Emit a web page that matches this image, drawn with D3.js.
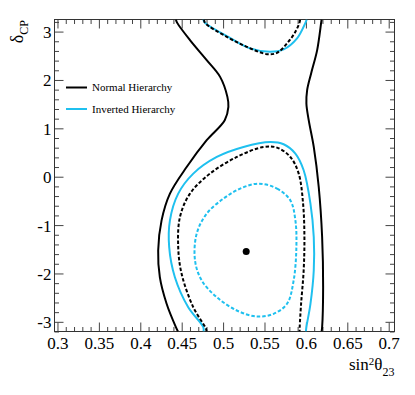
<!DOCTYPE html>
<html>
<head>
<meta charset="utf-8">
<script src="https://cdn.jsdelivr.net/npm/d3@7"></script>
<style>
  body { margin: 0; background: #fff; }
  svg { display: block; font-family: 'Liberation Serif', 'Times New Roman', serif; }
  .axis line { stroke: #444; }
</style>
</head>
<body>
<svg id="chart"></svg>
<script>
// contour points, [sin^2 theta23, deltaCP]
const nhOuterLeft = [
  [0.443, 3.25], [0.4446, 3.18], [0.460, 2.824], [0.4802, 2.41], [0.4964, 2.064],
  [0.5052, 1.65], [0.5064, 1.443], [0.502, 1.168], [0.4802, 0.754], [0.456, 0.20],
  [0.4358, -0.35], [0.4257, -0.903], [0.4216, -1.524], [0.4236, -2.077],
  [0.4318, -2.627], [0.443, -3.11], [0.4455, -3.2]
];
const nhOuterRight = [
  [0.619, 3.25], [0.6184, 3.18], [0.6136, 2.617], [0.6063, 2.135], [0.6015, 1.789],
  [0.6006, 1.513], [0.6034, 1.168], [0.6095, 0.615], [0.6155, -0.213],
  [0.6196, -1.248], [0.6208, -2.284], [0.6196, -3.11], [0.619, -3.2]
];
const nhInnerTop = [
  [0.477, 3.25], [0.4782, 3.18], [0.5045, 2.892], [0.5287, 2.685], [0.553, 2.534],
  [0.5651, 2.561], [0.5772, 2.756], [0.5873, 2.996], [0.5925, 3.2], [0.593, 3.25]
];
const nhInnerMain = [
  [0.48, -3.2], [0.4794, -3.145], [0.464, -2.698], [0.4499, -2.006], [0.4458, -1.456],
  [0.4479, -0.834], [0.460, -0.35], [0.4842, 0.064], [0.5166, 0.408], [0.5488, 0.615],
  [0.5651, 0.602], [0.5812, 0.408], [0.5913, 0.064], [0.5966, -0.557], [0.5982, -1.248],
  [0.5973, -1.938], [0.5942, -2.627], [0.5925, -3.11], [0.5924, -3.2]
];
const ihOuterTop = [
  [0.476, 3.25], [0.4782, 3.18], [0.5045, 2.907], [0.5327, 2.652], [0.557, 2.582],
  [0.5731, 2.631], [0.5893, 2.859], [0.5994, 3.18], [0.601, 3.25]
];
const ihOuterMain = [
  [0.4764, -3.2], [0.4761, -3.11], [0.4579, -2.698], [0.4418, -2.077], [0.4349, -1.456],
  [0.4358, -0.903], [0.4458, -0.35], [0.464, 0.064], [0.4924, 0.408], [0.5246, 0.615],
  [0.557, 0.718], [0.5731, 0.671], [0.5873, 0.478], [0.5973, 0.133], [0.6055, -0.557],
  [0.6095, -1.248], [0.6095, -1.938], [0.6055, -2.627], [0.6006, -3.11], [0.600, -3.2]
];
const ihInner = [
  [0.5428, -0.143], [0.5651, -0.246], [0.5812, -0.489], [0.5873, -0.903], [0.5885, -1.456],
  [0.5852, -2.145], [0.5772, -2.627], [0.561, -2.834], [0.5408, -2.89], [0.5166, -2.766],
  [0.4924, -2.491], [0.4742, -2.145], [0.4661, -1.731], [0.4681, -1.178], [0.4802, -0.764],
  [0.5004, -0.453], [0.5206, -0.246]
];
const bestFit = [0.5279, -1.545];

const xMajor = [0.3, 0.35, 0.4, 0.45, 0.5, 0.55, 0.6, 0.65, 0.7];
const yMajor = [-3, -2, -1, 0, 1, 2, 3];
const legendLabels = ['Normal Hierarchy', 'Inverted Hierarchy'];

const W = 415, H = 395;
const margin = { top: 19.5, right: 20.5, bottom: 63.5, left: 54.5 };
const width = W - margin.left - margin.right;
const height = H - margin.top - margin.bottom;
const black = '#000', cyan = '#1fc0ef';

const svg = d3.select('#chart').attr('width', W).attr('height', H);
const chart = svg.append('g').attr('transform', `translate(${margin.left},${margin.top})`);

const x = d3.scaleLinear().domain([0.2964, 0.707]).range([0, width]);
const y = d3.scaleLinear().domain([-3.2, 3.25]).range([height, 0]);

const xMinor = d3.range(30, 71).map(d => d / 100).filter(v => Math.round(v * 100) % 5 !== 0);
const yMinor = d3.range(-16, 17).map(d => d / 5).filter(v => Math.round(v * 5) % 5 !== 0);

// ticks pointing inward on all four sides
const addAxis = (axisFn, scale, vals, size, tf, transform) => {
  const g = chart.append('g').attr('class', 'axis').attr('transform', transform || null)
    .call(axisFn(scale).tickValues(vals).tickSizeInner(-size).tickSizeOuter(0).tickFormat(tf));
  g.select('.domain').remove();
  return g;
};
const noLabel = () => '';
const xLab = addAxis(d3.axisBottom, x, xMajor, 9, d => String(+d.toFixed(2)), `translate(0,${height})`);
addAxis(d3.axisBottom, x, xMinor, 4.5, noLabel, `translate(0,${height})`);
addAxis(d3.axisTop, x, xMajor, 9, noLabel);
addAxis(d3.axisTop, x, xMinor, 4.5, noLabel);
const yLab = addAxis(d3.axisLeft, y, yMajor, 9, d => String(d));
addAxis(d3.axisLeft, y, yMinor, 4.5, noLabel);
addAxis(d3.axisRight, y, yMajor, 9, noLabel, `translate(${width},0)`);
addAxis(d3.axisRight, y, yMinor, 4.5, noLabel, `translate(${width},0)`);

xLab.selectAll('text').attr('y', 5).attr('dy', '0.71em')
  .style('font-size', '17px').style('font-family', 'Liberation Serif').attr('fill', '#000');
yLab.selectAll('text').attr('x', -3).attr('dy', '0.35em')
  .style('font-size', '17px').style('font-family', 'Liberation Serif').attr('fill', '#000');

chart.append('rect').attr('width', width).attr('height', height)
  .attr('fill', 'none').attr('stroke', '#333').attr('stroke-width', 1);

// axis titles
const xt = svg.append('text').attr('x', margin.left + width).attr('y', 370)
  .attr('text-anchor', 'end').style('font-size', '17px');
xt.append('tspan').text('sin');
xt.append('tspan').attr('dy', -5).style('font-size', '11px').text('2');
xt.append('tspan').attr('dy', 5).text('θ');
xt.append('tspan').attr('dy', 6).style('font-size', '12px').text('23');

const yt = svg.append('text').attr('transform', 'translate(23,20) rotate(-90)')
  .attr('text-anchor', 'end').style('font-size', '18px');
yt.append('tspan').text('δ');
yt.append('tspan').attr('dy', 5).style('font-size', '12px').text('CP');

// contours
svg.append('defs').append('clipPath').attr('id', 'frame')
  .append('rect').attr('width', width).attr('height', height);
const plot = chart.append('g').attr('clip-path', 'url(#frame)');

const line = d3.line().x(d => x(d[0])).y(d => y(d[1])).curve(d3.curveCatmullRom.alpha(0.5));
const loop = d3.line().x(d => x(d[0])).y(d => y(d[1])).curve(d3.curveCatmullRomClosed.alpha(0.5));

const contours = [
  { pts: nhOuterLeft, color: black, dash: null, gen: line },
  { pts: nhOuterRight, color: black, dash: null, gen: line },
  { pts: ihOuterTop, color: cyan, dash: null, gen: line },
  { pts: ihOuterMain, color: cyan, dash: null, gen: line },
  { pts: nhInnerTop, color: black, dash: '3.5,2', gen: line },
  { pts: nhInnerMain, color: black, dash: '3.5,2', gen: line },
  { pts: ihInner, color: cyan, dash: '3.5,2', gen: loop }
];
plot.selectAll('.contour')
  .data(contours)
  .join('path')
  .attr('class', 'contour')
  .attr('d', d => d.gen(d.pts))
  .attr('fill', 'none')
  .attr('stroke', d => d.color)
  .attr('stroke-width', 2)
  .attr('stroke-dasharray', d => d.dash);

plot.append('circle')
  .attr('cx', x(bestFit[0])).attr('cy', y(bestFit[1])).attr('r', 3.5).attr('fill', '#000');

// legend
const legend = svg.append('g');
legendLabels.forEach((lab, i) => {
  const ly = 87.5 + i * 21.5;
  legend.append('line').attr('x1', 66).attr('x2', 87).attr('y1', ly).attr('y2', ly)
    .attr('stroke', i === 0 ? black : cyan).attr('stroke-width', 2);
  legend.append('text').attr('x', 92).attr('y', ly + 3.5)
    .style('font-size', '11px').text(lab);
});
</script>
</body>
</html>
